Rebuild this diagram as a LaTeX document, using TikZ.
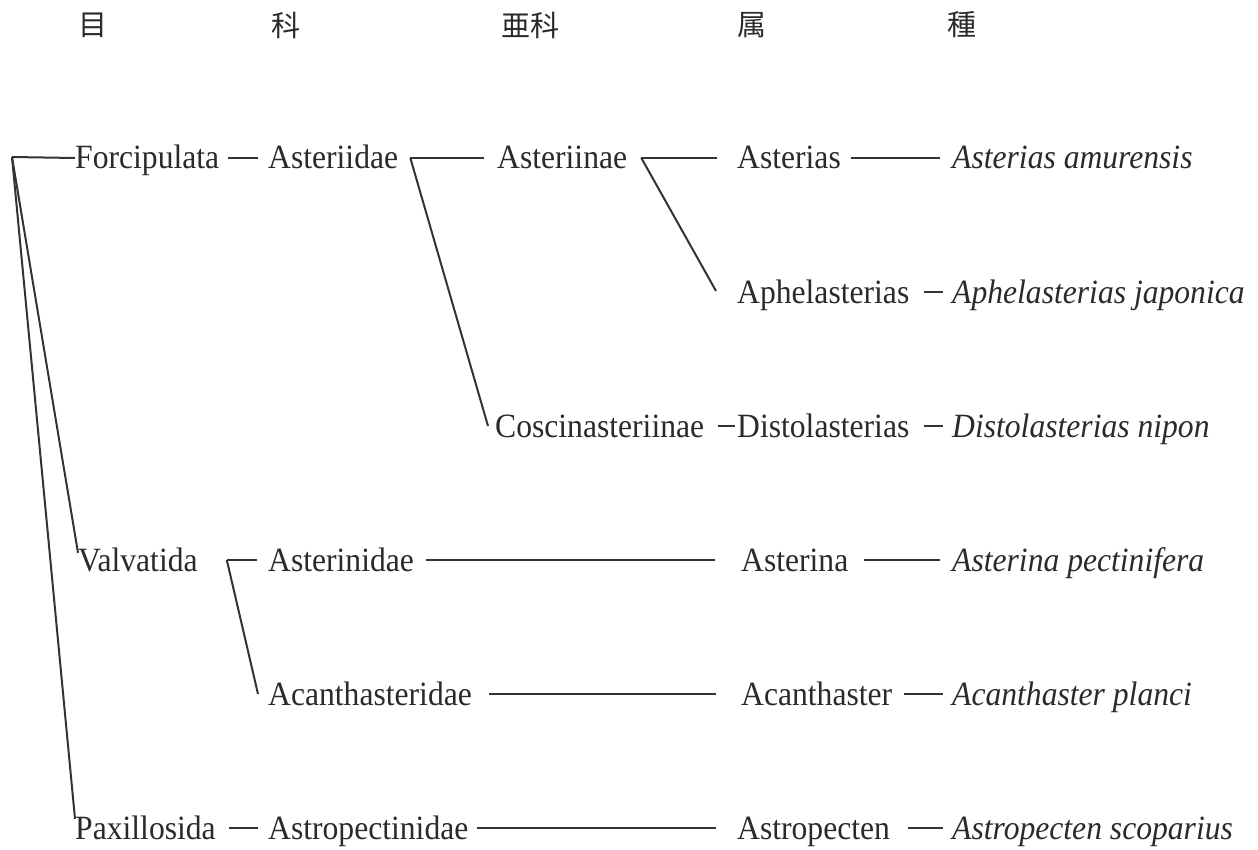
\documentclass[tikz,border=0pt]{standalone}
\usepackage{fontspec}
\setmainfont{Liberation Serif}[FakeStretch=0.93]
\newfontfamily\cjk{Noto Sans CJK JP}
\definecolor{ink}{HTML}{2A2A2A}
\definecolor{rule}{HTML}{333333}
\tikzset{
  taxon/.style={anchor=base west, inner sep=0pt, text height=22pt, text depth=0pt,
    text=ink, font=\fontsize{34}{40}\selectfont},
  species/.style={taxon, font=\fontsize{34}{40}\selectfont\itshape},
  rank/.style={inner sep=0pt, text=ink, font=\cjk\fontsize{29}{32}\selectfont},
  link/.style={draw=rule, line width=2pt},
}
\begin{document}
\begin{tikzpicture}[x=1pt,y=-1pt]
\useasboundingbox (0,0) rectangle (1258,850);

% rank headings
\node[rank] (hOrder)   at (93,25)  {目};
\node[rank] (hFamily)  at (286,25) {科};
\node[rank] (hSubfam)  at (530,25) {亜科};
\node[rank] (hGenus)   at (752,25) {属};
\node[rank] (hSpecies) at (962,25) {種};

% orders
\node[taxon] (forc) at (75,169) {Forcipulata};
\node[taxon] (valv) at (78,571) {Valvatida};
\node[taxon] (paxi) at (75,839) {Paxillosida};

% families
\node[taxon] (asteriidae) at (268,169) {Asteriidae};
\node[taxon] (asterinidae) at (268,571) {Asterinidae};
\node[taxon] (acanthidae) at (268,705) {Acanthasteridae};
\node[taxon] (astropidae) at (268,839) {Astropectinidae};

% subfamilies
\node[taxon] (asteriinae) at (497,169) {Asteriinae};
\node[taxon] (cosc) at (495,437) {Coscinasteriinae};

% genera
\node[taxon] (asterias) at (737,169) {Asterias};
\node[taxon] (aphel) at (737,303) {Aphelasterias};
\node[taxon] (disto) at (737,437) {Distolasterias};
\node[taxon] (asterina) at (741,571) {Asterina};
\node[taxon] (acanth) at (741,705) {Acanthaster};
\node[taxon] (astrop) at (737,839) {Astropecten};

% species
\node[species] (spAsterias) at (952,169) {Asterias amurensis};
\node[species] (spAphel) at (952,303) {Aphelasterias japonica};
\node[species] (spDisto) at (952,437) {Distolasterias nipon};
\node[species] (spAsterina) at (952,571) {Asterina pectinifera};
\node[species] (spAcanth) at (952,705) {Acanthaster planci};
\node[species] (spAstrop) at (952,839) {Astropecten scoparius};

% branching points
\coordinate (root) at (12,157);
\coordinate (bAsteriidae) at ([xshift=12pt]asteriidae.east);
\coordinate (bAsteriinae) at ([xshift=14pt]asteriinae.east);
\coordinate (bValv) at ([xshift=29pt]valv.east);

% root to orders
\draw[link] (root) -- (forc.west);
\draw[link] (root) -- ([yshift=-4pt]valv.north west);
\draw[link] (root) -- ([yshift=-2pt]paxi.north west);

% Forcipulata branch
\draw[link] ([xshift=9pt]forc.east) -- ([xshift=-10pt]asteriidae.west);
\draw[link] (bAsteriidae) -- ([xshift=-13pt]asteriinae.west);
\draw[link] (bAsteriidae) -- ([xshift=-7pt]cosc.west);
\draw[link] (bAsteriinae) -- ([xshift=-20pt]asterias.west);
\draw[link] (bAsteriinae) -- ([xshift=-21pt,yshift=1pt]aphel.west);
\draw[link] ([xshift=-19pt]disto.west) -- ([xshift=-2pt]disto.west);
\draw[link] ([xshift=10pt]asterias.east) -- ([xshift=-12pt]spAsterias.west);
\draw[link] ([xshift=14pt]aphel.east) -- ([xshift=-9pt]spAphel.west);
\draw[link] ([xshift=14pt]disto.east) -- ([xshift=-9pt]spDisto.west);

% Valvatida branch
\draw[link] (bValv) -- ([xshift=-11pt]asterinidae.west);
\draw[link] (bValv) -- ([xshift=-10pt]acanthidae.west);
\draw[link] ([xshift=12pt]asterinidae.east) -- ([xshift=-26pt]asterina.west);
\draw[link] ([xshift=15pt]asterina.east) -- ([xshift=-12pt]spAsterina.west);
\draw[link] ([xshift=17pt]acanthidae.east) -- ([xshift=-25pt]acanth.west);
\draw[link] ([xshift=12pt]acanth.east) -- ([xshift=-9pt]spAcanth.west);

% Paxillosida branch
\draw[link] ([xshift=13pt]paxi.east) -- ([xshift=-10pt]astropidae.west);
\draw[link] ([xshift=8pt]astropidae.east) -- ([xshift=-21pt]astrop.west);
\draw[link] ([xshift=18pt]astrop.east) -- ([xshift=-9pt]spAstrop.west);
\end{tikzpicture}
\end{document}
